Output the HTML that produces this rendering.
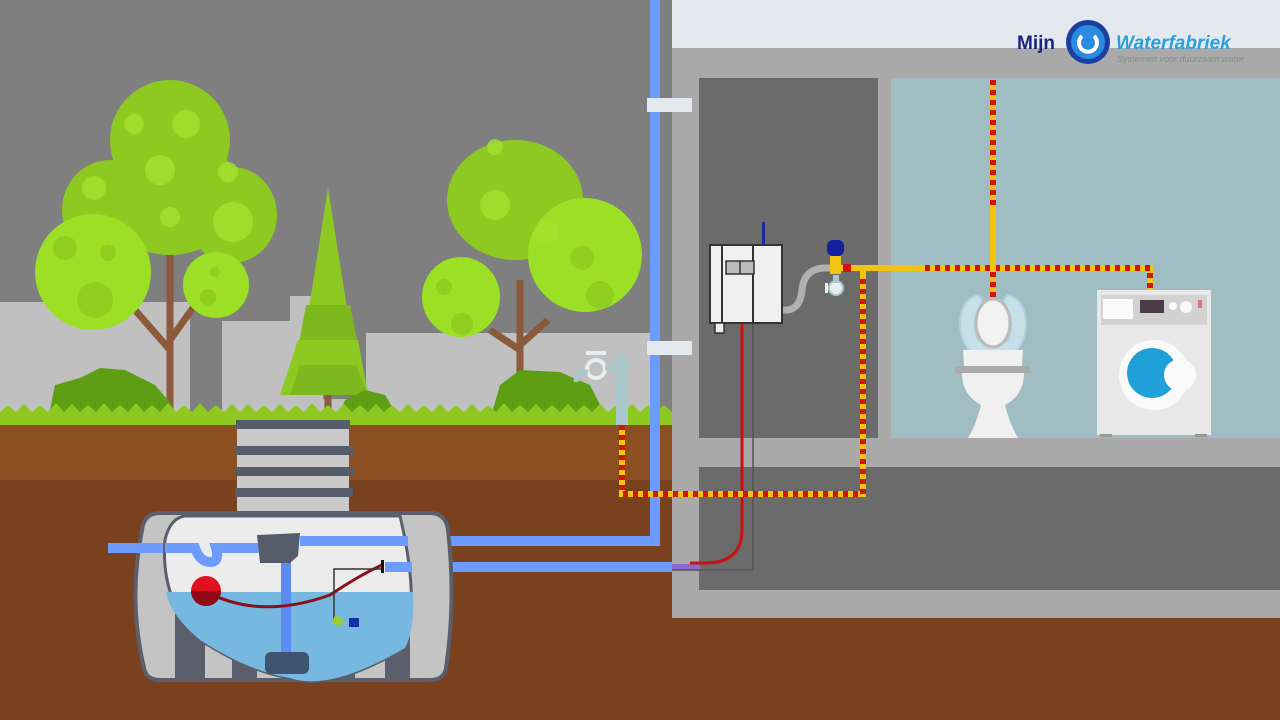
<!DOCTYPE html>
<html><head><meta charset="utf-8"><style>html,body{margin:0;padding:0;width:1280px;height:720px;overflow:hidden;background:#7f7f7f}</style></head><body>
<svg width="1280" height="720" viewBox="0 0 1280 720" xmlns="http://www.w3.org/2000/svg" font-family="Liberation Sans, sans-serif">
<rect width="1280" height="720" fill="#7f7f7f"/>
<g fill="#c0c0c0">
<rect x="0" y="302" width="190" height="120"/>
<rect x="222" y="321" width="70" height="100"/>
<rect x="290" y="296" width="33" height="125"/>
<rect x="323" y="399" width="45" height="25"/>
<rect x="366" y="333" width="150" height="90"/>
<rect x="516" y="333" width="135" height="90"/>
</g>
<rect x="190" y="357" width="32" height="65" fill="#7f7f7f"/>
<rect x="0" y="423" width="672" height="58" fill="#8c4f21"/>
<rect x="0" y="480" width="1280" height="240" fill="#7a411e"/>
<rect x="672" y="0" width="608" height="48" fill="#e4e9f0"/>
<rect x="672" y="48" width="608" height="570" fill="#a9a9a9"/>
<rect x="699" y="78" width="179" height="360" fill="#6b6b6b"/>
<rect x="891" y="78" width="389" height="360" fill="#9fbdc2"/>
<rect x="699" y="467" width="581" height="123" fill="#6b6b6b"/>
<g stroke="#8a5a3a" stroke-width="7" fill="none">
<line x1="170" y1="240" x2="170" y2="420"/><line x1="170" y1="350" x2="135" y2="310"/><line x1="170" y1="340" x2="195" y2="305"/>
<line x1="520" y1="280" x2="520" y2="420"/><line x1="520" y1="350" x2="490" y2="330"/><line x1="520" y1="345" x2="548" y2="320"/>
<line x1="328" y1="380" x2="328" y2="420"/>
</g>
<g fill="#8dc921">
<ellipse cx="170" cy="140" rx="60" ry="60"/><ellipse cx="110" cy="210" rx="48" ry="50"/><ellipse cx="232" cy="215" rx="45" ry="48"/><ellipse cx="170" cy="195" rx="70" ry="60"/>
<ellipse cx="515" cy="200" rx="68" ry="60"/>
</g>
<g fill="#9be024">
<ellipse cx="93" cy="272" rx="58" ry="58"/><ellipse cx="216" cy="285" rx="33" ry="33"/>
<ellipse cx="585" cy="255" rx="57" ry="57"/><ellipse cx="461" cy="297" rx="39" ry="40"/>
</g>
<g fill="#8dc921" opacity=".8">
<circle cx="65" cy="248" r="12"/><circle cx="95" cy="300" r="18"/><circle cx="108" cy="253" r="8"/><circle cx="215" cy="272" r="5"/><circle cx="208" cy="297" r="8"/><circle cx="582" cy="258" r="12"/><circle cx="600" cy="295" r="14"/><circle cx="462" cy="324" r="11"/><circle cx="444" cy="287" r="8"/>
</g>
<g fill="#a6e02e" opacity=".8">
<circle cx="134" cy="124" r="10"/><circle cx="186" cy="124" r="14"/><circle cx="160" cy="170" r="15"/><circle cx="228" cy="172" r="10"/><circle cx="233" cy="222" r="20"/><circle cx="94" cy="188" r="12"/><circle cx="170" cy="217" r="10"/>
<circle cx="495" cy="205" r="15"/><circle cx="547" cy="232" r="12"/><circle cx="495" cy="147" r="8"/>
</g>
<polygon points="328,188 300,365 356,365" fill="#8dc921"/>
<polygon points="306,305 350,305 362,365 295,365" fill="#7cb81e"/>
<polygon points="298,340 358,340 368,395 280,395" fill="#8dc921"/>
<polygon points="300,365 356,365 368,395 290,395" fill="#7cb81e"/>
<g fill="#5e9e14">
<path d="M48,420 L55,385 L80,378 L100,368 L125,370 L155,385 L172,405 L178,420Z"/>
<path d="M337,420 L345,400 L365,390 L385,395 L400,420Z"/>
<path d="M490,420 L500,385 L520,370 L560,372 L590,385 L608,420Z"/>
</g>
<g fill="#8dc921">
<path d="M0,425 L0,412 L8,405 L16,412 L24,404 L32,412 L40,405 L48,412 L56,403 L64,412 L72,404 L80,412 L88,405 L96,412 L104,403 L112,412 L120,405 L128,412 L136,403 L144,412 L152,405 L160,412 L168,403 L176,412 L184,405 L192,412 L200,403 L208,412 L216,405 L224,412 L232,404 L240,412 L248,404 L256,412 L264,405 L272,412 L280,404 L288,412 L296,405 L304,412 L312,403 L320,412 L328,405 L336,412 L344,404 L352,412 L360,405 L368,412 L376,404 L384,412 L392,405 L400,412 L408,404 L416,412 L424,405 L432,412 L440,404 L448,412 L456,405 L464,412 L472,404 L480,412 L488,405 L496,412 L504,403 L512,412 L520,405 L528,412 L536,404 L544,412 L552,405 L560,412 L568,404 L576,412 L584,405 L592,412 L600,404 L608,412 L616,405 L624,412 L632,404 L640,412 L648,405 L656,412 L664,405 L672,412 L672,425Z"/>
</g>
<rect x="616" y="356" width="12" height="69" fill="#a9c8cc"/>
<circle cx="596" cy="369" r="9" fill="none" stroke="#e8eef0" stroke-width="4"/>
<path d="M605,368 L616,368" stroke="#a9c8cc" stroke-width="5"/>
<path d="M588,372 Q576,372 576,382" stroke="#a9c8cc" stroke-width="5" fill="none"/>
<rect x="586" y="351" width="20" height="4" fill="#e8eef0"/>
<path d="M655,0 L655,541 L300,541" stroke="#6c9cff" stroke-width="10" fill="none"/>
<rect x="647" y="98" width="45" height="14" fill="#e4e9f0"/>
<rect x="647" y="341" width="45" height="14" fill="#e4e9f0"/>
<path d="M385,567 L672,567" stroke="#6c9cff" stroke-width="10"/>
<path d="M672,567 L700,567" stroke="#8a6ad0" stroke-width="6"/>
<rect x="237" y="420" width="112" height="95" fill="#c9c9c9"/>
<g fill="#555d6a"><rect x="236" y="420" width="114" height="9"/><rect x="235" y="446" width="118" height="9"/><rect x="235" y="467" width="118" height="9"/><rect x="235" y="488" width="118" height="9"/></g>
<!-- tank -->
<path d="M160,513 L430,513 Q446,513 448,530 Q456,600 446,668 Q444,680 430,680 L160,680 Q146,680 144,668 Q128,600 142,530 Q144,513 160,513Z" fill="#c4c4c4" stroke="#5a5f6b" stroke-width="4"/>
<g fill="#5a5f6b"><rect x="175" y="600" width="30" height="80"/><rect x="232" y="600" width="25" height="80"/><rect x="330" y="600" width="25" height="80"/><rect x="385" y="600" width="25" height="80"/></g>
<path d="M108,548 L170,548" stroke="#6c9cff" stroke-width="10"/>
<path d="M185,516 L400,516 Q420,600 405,648 Q330,692 290,678 Q250,672 200,640 Q160,600 165,540 Q170,518 185,516Z" fill="#ececec" stroke="#5a5f6b" stroke-width="3"/>
<path d="M166,592 L413,592 Q415,630 405,648 Q330,692 290,678 Q250,672 200,640 Q170,615 166,592Z" fill="#76b8e0"/>
<path d="M165,548 L195,548 Q200,562 210,562 Q220,562 216,548 L260,548" stroke="#6c9cff" stroke-width="10" fill="none"/>
<path d="M300,541 L408,541" stroke="#6c9cff" stroke-width="10"/>
<path d="M385,567 L412,567" stroke="#6c9cff" stroke-width="10"/>
<rect x="281" y="560" width="10" height="95" fill="#5c8cf2"/>
<path d="M257,535 L300,533 L298,556 L290,563 L260,563 Z" fill="#555d6a"/>
<rect x="265" y="652" width="44" height="22" rx="6" fill="#3d5570"/>
<path d="M207,592 Q260,620 330,595 Q360,575 382,565" stroke="#8a1020" stroke-width="3" fill="none"/>
<circle cx="206" cy="591" r="15" fill="#e01020"/>
<path d="M191,591 A15,15 0 0 0 221,591Z" fill="#900818"/>
<path d="M334,620 L334,569 L382,569" stroke="#333" stroke-width="1.5" fill="none"/>
<rect x="381" y="560" width="3" height="13" fill="#111"/>
<rect x="333" y="617" width="10" height="8" fill="#9acd32" transform="rotate(25 338 621)"/>
<rect x="349" y="618" width="10" height="9" fill="#1030a0"/>
<path d="M753,323 L753,570 L672,570" stroke="#555" stroke-width="1.5" fill="none"/>
<path d="M742,323 L742,530 Q742,563 705,563 L690,563" stroke="#cc1010" stroke-width="3" fill="none"/>
<path d="M782,310 Q800,312 802,290 Q804,268 826,268 L835,268" stroke="#b0b0b0" stroke-width="7" fill="none"/>
<rect x="710" y="245" width="72" height="78" fill="#f0f0f0" stroke="#333" stroke-width="2"/>
<line x1="722" y1="245" x2="722" y2="323" stroke="#333" stroke-width="2"/>
<line x1="753" y1="245" x2="753" y2="323" stroke="#333" stroke-width="2"/>
<rect x="726" y="261" width="28" height="13" fill="#bbb" stroke="#333" stroke-width="1.5"/>
<line x1="740" y1="261" x2="740" y2="274" stroke="#333" stroke-width="1.5"/>
<rect x="762" y="222" width="3" height="23" fill="#1a2a9a"/>
<rect x="715" y="323" width="9" height="10" fill="#f0f0f0" stroke="#333" stroke-width="1.5"/>
<rect x="827" y="240" width="17" height="16" rx="6" fill="#1020a0"/>
<rect x="830" y="256" width="11" height="18" fill="#f2c40f"/>
<circle cx="836" cy="288" r="7" fill="#e8eef0" stroke="#a9c8cc" stroke-width="2"/>
<rect x="833" y="275" width="6" height="8" fill="#a9c8cc"/>
<rect x="825" y="283" width="3" height="10" fill="#e8eef0"/>
<g fill="none" stroke-width="6">
<path d="M622,425 L622,494 L863,494 L863,268" stroke="#f2c40f"/>
<path d="M622,425 L622,494 L863,494 L863,278" stroke="#d4120e" stroke-dasharray="5 5"/>
<path d="M840,268 L1150,268 L1150,290" stroke="#f2c40f"/>
<path d="M925,268 L1150,268 L1150,290" stroke="#d4120e" stroke-dasharray="5 5"/>
<path d="M993,80 L993,300" stroke="#f2c40f"/>
<path d="M993,80 L993,210" stroke="#d4120e" stroke-dasharray="5 5"/>
<path d="M993,272 L993,300" stroke="#d4120e" stroke-dasharray="5 5"/>
</g>
<rect x="843" y="264" width="8" height="8" fill="#d4120e"/>
<!-- toilet -->
<path d="M978,295 Q960,300 960,325 Q962,358 993,360 Q1024,358 1026,325 Q1026,300 1008,295 Q1000,300 1008,310 Q1014,325 1008,340 Q993,350 978,340 Q972,325 978,310 Q986,300 978,295Z" fill="#c5e0e8" stroke="#b0d0dc" stroke-width="2"/>
<ellipse cx="993" cy="323" rx="17" ry="24" fill="#f2f2f2" stroke="#bbb" stroke-width="3"/>
<path d="M963,350 L1023,350 L1022,366 L964,366Z" fill="#f0f0f0"/>
<rect x="955" y="366" width="75" height="7" fill="#aaa"/>
<path d="M962,373 L1024,373 Q1024,395 1005,405 Q1010,425 1018,438 L968,438 Q976,425 981,405 Q962,395 962,373Z" fill="#f0f0f0"/>
<rect x="1097" y="290" width="114" height="145" fill="#e8e8e8"/>
<rect x="1101" y="295" width="106" height="30" fill="#d2d2d2"/>
<rect x="1103" y="299" width="30" height="20" fill="#fafafa"/>
<rect x="1140" y="300" width="24" height="13" fill="#4a3c48"/>
<circle cx="1173" cy="306" r="4" fill="#fafafa"/><circle cx="1186" cy="307" r="6" fill="#fafafa"/>
<rect x="1198" y="300" width="4" height="8" fill="#e07080"/>
<circle cx="1154" cy="375" r="35" fill="#fafafa"/>
<circle cx="1152" cy="373" r="25" fill="#1fa0d8"/>
<circle cx="1180" cy="375" r="16" fill="#fafafa"/>
<rect x="1100" y="434" width="12" height="3" fill="#999"/><rect x="1195" y="434" width="12" height="3" fill="#999"/>
<text x="1017" y="49" font-size="19" font-weight="bold" fill="#1a237e">Mijn</text>
<circle cx="1088" cy="42" r="22" fill="#1a3fa0"/>
<circle cx="1088" cy="42" r="17" fill="#2a8ae0"/>
<path d="M1082,36 A9,9 0 1 0 1094,36" stroke="#fff" stroke-width="4" fill="none"/>
<text x="1116" y="49" font-size="19" font-weight="bold" font-style="italic" fill="#2ca0d8">Waterfabriek</text>
<text x="1117" y="62" font-size="9" font-style="italic" fill="#8a8a8a">Systemen voor duurzaam water</text>
</svg>
</body></html>
